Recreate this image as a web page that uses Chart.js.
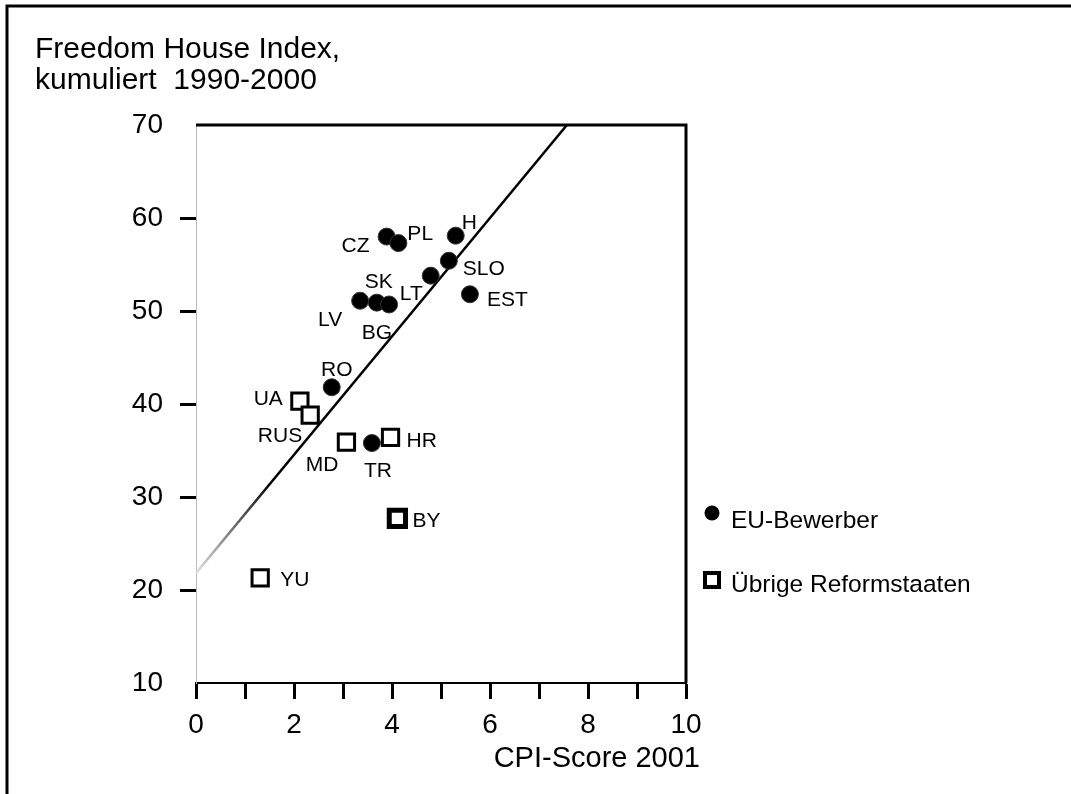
<!DOCTYPE html>
<html>
<head>
<meta charset="utf-8">
<script src="https://cdn.jsdelivr.net/npm/chart.js@4.4.0/dist/chart.umd.min.js"></script>
<style>
  html, body { margin: 0; padding: 0; background: #fff; }
  #wrap { width: 1071px; height: 794px; }
</style>
</head>
<body>
<div id="wrap"><canvas id="chart" width="1071" height="794"></canvas></div>
<script>
// EU candidate countries
const euLabels = ['CZ', 'PL', 'H', 'SLO', 'LT', 'EST', 'LV', 'SK', 'BG', 'RO', 'TR'];
const euCpi = [3.89, 4.13, 5.30, 5.16, 4.79, 5.59, 3.35, 3.69, 3.94, 2.77, 3.59];
const euFhi = [58.0, 57.3, 58.1, 55.4, 53.8, 51.8, 51.1, 50.9, 50.7, 41.8, 35.8];

// other reform states
const otherLabels = ['UA', 'RUS', 'MD', 'HR', 'BY', 'YU'];
const otherCpi = [2.12, 2.33, 3.07, 3.97, 4.11, 1.31];
const otherFhi = [40.3, 38.8, 35.9, 36.4, 27.7, 21.3];

// regression line end points
const trendCpi = [0, 7.57];
const trendFhi = [21.8, 70];

const xTicks = [0, 2, 4, 6, 8, 10];
const yTicks = [10, 20, 30, 40, 50, 60, 70];

const seriesNames = ['EU-Bewerber', 'Übrige Reformstaaten'];
const yTitle = ['Freedom House Index,', 'kumuliert  1990-2000'];
const xTitle = 'CPI-Score 2001';

// label placement relative to marker: dx, dy, align
const labelPos = {
  CZ: [-17, 15, 'right'], PL: [9, -3, 'left'], H: [6, -7, 'left'],
  SLO: [14, 14, 'left'], LT: [-8, 24, 'right'], EST: [17, 12, 'left'],
  LV: [-18, 25, 'right'], SK: [2, -15, 'center'], BG: [3, 35, 'right'],
  RO: [5, -11, 'center'], TR: [6, 34, 'center'],
  UA: [-17, 4, 'right'], RUS: [-8, 27, 'right'], MD: [-8, 29, 'right'],
  HR: [16, 10, 'left'], BY: [15, 9, 'left'], YU: [20, 8, 'left']
};

const FONT = '"Liberation Sans", Arial, sans-serif';

const toPoints = (xs, ys) => xs.map((x, i) => ({ x: x, y: ys[i] }));

const extras = {
  id: 'extras',
  afterDatasetsDraw(chart) {
    const ctx = chart.ctx;
    const ca = chart.chartArea;
    ctx.save();

    // top and right frame of the plot
    ctx.strokeStyle = '#000';
    ctx.lineWidth = 3;
    ctx.beginPath();
    ctx.moveTo(ca.left, ca.top);
    ctx.lineTo(ca.right, ca.top);
    ctx.lineTo(ca.right, ca.bottom);
    ctx.stroke();

    // outer frame (top and left)
    ctx.beginPath();
    ctx.moveTo(7, 794);
    ctx.lineTo(7, 6);
    ctx.lineTo(1071, 6);
    ctx.stroke();

    // point labels
    ctx.fillStyle = '#000';
    ctx.font = '21px ' + FONT;
    ctx.textBaseline = 'alphabetic';
    [[0, euLabels], [1, otherLabels]].forEach(([di, names]) => {
      const meta = chart.getDatasetMeta(di);
      meta.data.forEach((el, i) => {
        const p = labelPos[names[i]];
        ctx.textAlign = p[2];
        ctx.fillText(names[i], el.x + p[0], el.y + p[1]);
      });
    });

    // axis titles
    ctx.font = '30px ' + FONT;
    ctx.textAlign = 'left';
    ctx.fillText(yTitle[0], 35, 58);
    ctx.fillText(yTitle[1], 35, 89);
    ctx.font = '29px ' + FONT;
    ctx.textAlign = 'right';
    ctx.fillText(xTitle, 700, 767);

    // legend
    ctx.beginPath();
    ctx.arc(712, 513, 7.5, 0, Math.PI * 2);
    ctx.fill();
    ctx.lineWidth = 4;
    ctx.strokeRect(705, 573, 14, 14);
    ctx.font = '24.5px ' + FONT;
    ctx.textAlign = 'left';
    ctx.fillText(seriesNames[0], 731, 528);
    ctx.fillText(seriesNames[1], 731, 592);

    ctx.restore();
  }
};

new Chart(document.getElementById('chart'), {
  type: 'scatter',
  data: {
    datasets: [
      {
        label: seriesNames[0],
        data: toPoints(euCpi, euFhi),
        pointStyle: 'circle',
        pointRadius: 8.5,
        backgroundColor: '#000',
        borderColor: '#333',
        borderWidth: 1,
        order: 1
      },
      {
        label: seriesNames[1],
        data: toPoints(otherCpi, otherFhi),
        pointStyle: 'rect',
        pointRadius: 11.5,
        backgroundColor: '#fff',
        borderColor: '#000',
        borderWidth: (c) => (otherLabels[c.dataIndex] === 'BY' ? 5 : 3),
        order: 2
      },
      {
        type: 'line',
        label: 'Trend',
        data: toPoints(trendCpi, trendFhi),
        pointRadius: 0,
        borderWidth: 2.5,
        borderColor: (c) => {
          const ca = c.chart.chartArea;
          if (!ca) return '#000';
          const g = c.chart.ctx.createLinearGradient(0, ca.bottom, 0, ca.top);
          g.addColorStop(0, '#fff');
          g.addColorStop(0.2, '#ddd');
          g.addColorStop(0.36, '#000');
          g.addColorStop(1, '#000');
          return g;
        },
        order: 3
      }
    ]
  },
  options: {
    responsive: false,
    animation: false,
    layout: { padding: { left: 20, top: 125, right: 385, bottom: 20 } },
    plugins: { legend: { display: false }, tooltip: { enabled: false } },
    scales: {
      x: {
        type: 'linear',
        min: 0,
        max: 10,
        afterFit: (s) => { s.height = 794 - 683 - 20; },
        border: { color: '#000', width: 2 },
        grid: { drawOnChartArea: false, tickLength: 16, tickWidth: 3, tickColor: '#000' },
        ticks: {
          stepSize: 1,
          autoSkip: false,
          maxRotation: 0,
          padding: 9,
          color: '#000',
          font: { family: FONT, size: 28 },
          callback: (v) => (xTicks.includes(v) ? String(v) : '')
        }
      },
      y: {
        type: 'linear',
        min: 10,
        max: 70,
        afterFit: (s) => { s.width = 196 - 20; },
        border: { color: '#bbb', width: 1 },
        grid: {
          drawOnChartArea: false,
          tickLength: 16,
          tickWidth: 3,
          tickColor: (c) => (c.tick && (c.tick.value === 10 || c.tick.value === 70) ? 'rgba(0,0,0,0)' : '#000')
        },
        ticks: {
          stepSize: 10,
          padding: 17,
          color: '#000',
          font: { family: FONT, size: 28 },
          callback: (v) => (yTicks.includes(v) ? String(v) : '')
        }
      }
    }
  },
  plugins: [extras]
});
</script>
</body>
</html>
